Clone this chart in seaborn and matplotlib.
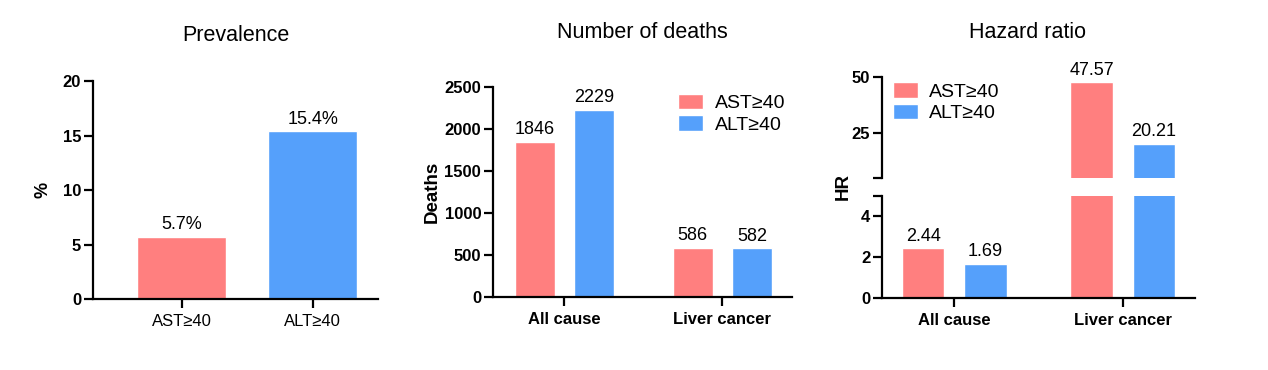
import numpy as np
import pandas as pd
import seaborn as sns
import matplotlib.pyplot as plt

# data
prev_groups = ['AST≥40', 'ALT≥40']
prev_values = [5.7, 15.4]

causes = ['All cause', 'Liver cancer']
markers = ['AST≥40', 'ALT≥40']
deaths_ast = [1846, 586]
deaths_alt = [2229, 582]
hr_ast = [2.44, 47.57]
hr_alt = [1.69, 20.21]

RED = '#FF7F7F'
BLUE = '#55A0FB'
palette = {'AST≥40': RED, 'ALT≥40': BLUE}

deaths = pd.DataFrame({
    'cause': causes * 2,
    'marker': [markers[0]] * 2 + [markers[1]] * 2,
    'value': deaths_ast + deaths_alt,
})
hr = pd.DataFrame({
    'cause': causes * 2,
    'marker': [markers[0]] * 2 + [markers[1]] * 2,
    'value': hr_ast + hr_alt,
})

sns.set_style('ticks')
plt.rcParams['font.family'] = ['Liberation Sans', 'DejaVu Sans']
plt.rcParams['axes.linewidth'] = 1.6
plt.rcParams['xtick.major.width'] = 1.6
plt.rcParams['ytick.major.width'] = 1.6
plt.rcParams['xtick.major.size'] = 6.5
plt.rcParams['ytick.major.size'] = 6.5
plt.rcParams['axes.edgecolor'] = 'black'
plt.rcParams['text.color'] = 'black'
plt.rcParams['xtick.color'] = 'black'
plt.rcParams['ytick.color'] = 'black'
plt.rcParams['axes.labelcolor'] = 'black'

fig = plt.figure(figsize=(12.68, 3.7), dpi=100)

TICK = 12
VAL = 13
PAD = 2.5


def style_axis(ax):
    sns.despine(ax=ax)
    ax.set_xlabel('')
    ax.set_ylabel('')
    ax.tick_params(axis='y', labelsize=TICK, pad=2)
    ax.tick_params(axis='x', labelsize=TICK, pad=4)
    for lab in ax.get_yticklabels():
        lab.set_fontweight('bold')


def add_labels(ax, fmt):
    for c in ax.containers:
        ax.bar_label(c, fmt=fmt, padding=PAD, fontsize=VAL)


# ---- Prevalence
ax1 = fig.add_axes([0.0733, 0.1919, 0.2248, 0.589])
sns.barplot(x=prev_groups, y=prev_values, hue=prev_groups, palette=palette,
            width=0.68, saturation=1, legend=False, ax=ax1)
ax1.set_ylim(0, 20)
ax1.set_yticks([0, 5, 10, 15, 20])
ax1.set_xlim(-0.68, 1.5)
style_axis(ax1)
add_labels(ax1, '%.1f%%')
fig.text(0.034, 0.1919 + 0.589 / 2, '%', rotation=90, fontsize=13,
         fontweight='bold', ha='center', va='center')
fig.text(0.1857, 0.903, 'Prevalence', fontsize=15.5, ha='center', va='center')

# ---- Number of deaths
ax2 = fig.add_axes([0.3888, 0.1973, 0.2358, 0.5676])
sns.barplot(data=deaths, x='cause', y='value', hue='marker', palette=palette,
            width=0.75, gap=0.325, saturation=1, ax=ax2)
ax2.set_ylim(0, 2500)
ax2.set_yticks([0, 500, 1000, 1500, 2000, 2500])
ax2.set_xlim(-0.45, 1.44)
style_axis(ax2)
for lab in ax2.get_xticklabels():
    lab.set_fontweight('bold')
add_labels(ax2, '%d')
ax2.legend(frameon=False, fontsize=14, loc='upper right',
           bbox_to_anchor=(1.035, 1.05), handlelength=1.25, handleheight=0.85,
           handletextpad=0.6, labelspacing=0.15)
fig.text(0.341, 0.1973 + 0.5676 / 2, 'Deaths', rotation=90, fontsize=13.5,
         fontweight='bold', ha='center', va='center')
fig.text(0.5067, 0.911, 'Number of deaths', fontsize=15.5, ha='center', va='center')

# ---- Hazard ratio (broken axis)
ax3b = fig.add_axes([0.6956, 0.1946, 0.2468, 0.2757])
ax3t = fig.add_axes([0.6956, 0.5189, 0.2468, 0.273])
for ax in (ax3b, ax3t):
    sns.barplot(data=hr, x='cause', y='value', hue='marker', palette=palette,
                width=0.74, gap=0.325, saturation=1, ax=ax,
                legend=(ax is ax3t))
    ax.set_xlim(-0.43, 1.43)
    sns.despine(ax=ax)
    ax.set_xlabel('')
    ax.set_ylabel('')

ax3b.set_ylim(0, 5)
ax3b.set_yticks([0, 2, 4, 5], ['0', '2', '4', ''])
ax3t.set_ylim(5, 50)
ax3t.set_yticks([5, 25, 50], ['', '25', '50'])
for ax in (ax3b, ax3t):
    ax.tick_params(axis='y', labelsize=TICK, pad=2)
    ax.tick_params(axis='x', labelsize=TICK, pad=4)
    for lab in ax.get_yticklabels():
        lab.set_fontweight('bold')
for lab in ax3b.get_xticklabels():
    lab.set_fontweight('bold')
ax3t.spines['bottom'].set_visible(False)
ax3t.tick_params(axis='x', bottom=False, labelbottom=False)

# value labels: small ones on the lower axis, large ones on the upper axis
for cb, ct in zip(ax3b.containers, ax3t.containers):
    small = [f'{v:.2f}' if v < 5 else '' for v in cb.datavalues]
    big = [f'{v:.2f}' if v >= 5 else '' for v in ct.datavalues]
    ax3b.bar_label(cb, labels=small, padding=PAD, fontsize=VAL)
    ax3t.bar_label(ct, labels=big, padding=PAD, fontsize=VAL, clip_on=False)

ax3t.legend(frameon=False, fontsize=14, loc='upper left',
            bbox_to_anchor=(-0.02, 1.12), handlelength=1.25, handleheight=0.85,
            handletextpad=0.6, labelspacing=0.15)
fig.text(0.665, 0.495, 'HR', rotation=90, fontsize=13.5,
         fontweight='bold', ha='center', va='center')
fig.text(0.81, 0.911, 'Hazard ratio', fontsize=15.5, ha='center', va='center')

fig.savefig('out.png', dpi=100)
